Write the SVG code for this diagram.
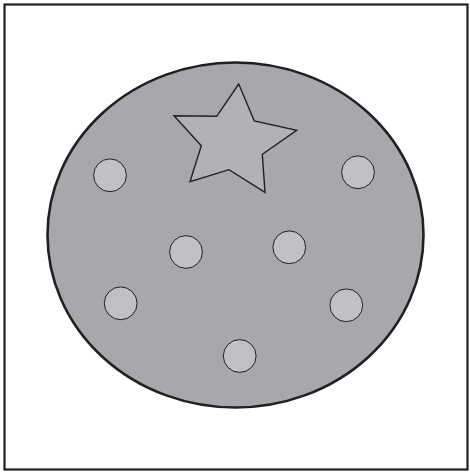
<svg xmlns="http://www.w3.org/2000/svg" width="470" height="472" viewBox="0 0 470 472">
<style>
.frame{fill:#ffffff;stroke:#231f20;stroke-width:2.2}
.body{fill:#a7a8ab;stroke:#231f20;stroke-width:2.6}
.star{fill:#b1b2b5;stroke:#231f20;stroke-width:1.4;stroke-linejoin:miter}
.dot{fill:#c0c1c4;stroke:#231f20;stroke-width:1}
</style>
<rect class="frame" x="4.5" y="4.5" width="463" height="465"/>
<g id="body"><ellipse class="body" cx="235.5" cy="235" rx="188" ry="172.5"/></g>
<g id="star"><polygon class="star" points="238.7,84 254.3,121 296.7,130.3 262.3,154.3 265,192.3 229,169.7 190,181.7 201.3,145.7 174,115.7 216.7,116.3"/></g>
<g id="dot1"><circle class="dot" cx="110" cy="175.3" r="16.4"/></g>
<g id="dot2"><circle class="dot" cx="358" cy="172.3" r="16.4"/></g>
<g id="dot3"><circle class="dot" cx="186" cy="252" r="16.4"/></g>
<g id="dot4"><circle class="dot" cx="289.3" cy="247.3" r="16.4"/></g>
<g id="dot5"><circle class="dot" cx="120.7" cy="303.3" r="16.4"/></g>
<g id="dot6"><circle class="dot" cx="346.3" cy="305.3" r="16.4"/></g>
<g id="dot7"><circle class="dot" cx="239.7" cy="356" r="16.4"/></g>
<g id="connectors"/>
</svg>
